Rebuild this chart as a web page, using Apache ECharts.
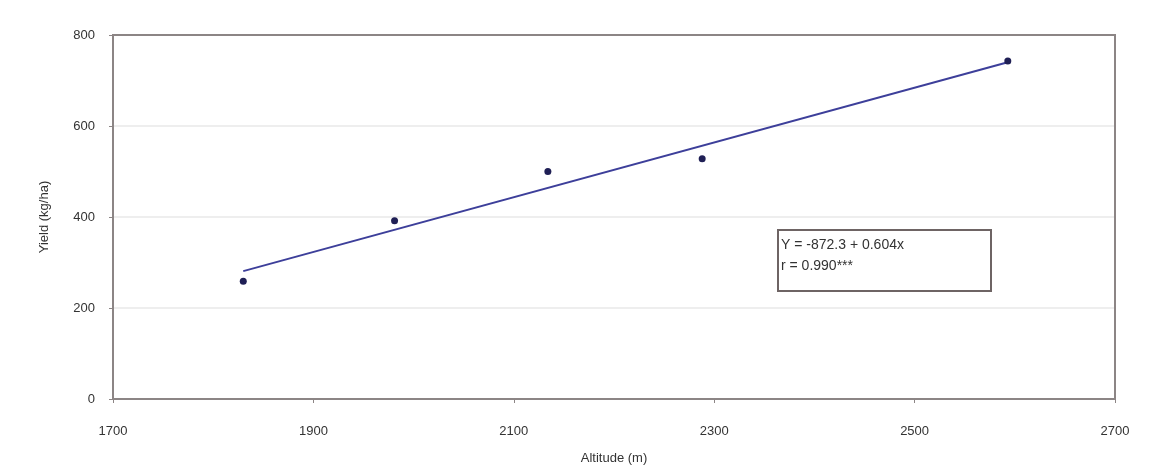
<!DOCTYPE html>
<html>
<head>
<meta charset="utf-8">
<script src="https://cdn.jsdelivr.net/npm/echarts@6/dist/echarts.min.js"></script>
<style>
html,body{margin:0;padding:0;background:#fff;}
#chart{width:1158px;height:470px;}
</style>
</head>
<body>
<div id="chart"></div>
<script>
// Data
const altitude = [1830, 1981, 2134, 2288, 2593];
const yieldValues = [259, 392, 500, 528, 743];
// Fitted line endpoints as drawn in the picture
const fitAltitude = [1830, 2593];
const fitYield = [281, 740];
const xTicks = [1700, 1900, 2100, 2300, 2500, 2700];
const yTicks = [0, 200, 400, 600, 800];
const equationLines = ['Y = -872.3 + 0.604x', 'r = 0.990***'];

const points = altitude.map((a, i) => [a, yieldValues[i]]);
const fitLine = fitAltitude.map((a, i) => [a, fitYield[i]]);

const chart = echarts.init(document.getElementById('chart'));
const font = 'Liberation Sans, Arial, sans-serif';
chart.setOption({
  animation: false,
  backgroundColor: '#fff',
  grid: { left: 113, right: 43, top: 35, bottom: 70, show: true, borderColor: '#8c8585', borderWidth: 2, backgroundColor: 'transparent', z: 5 },
  xAxis: {
    type: 'value', min: xTicks[0], max: xTicks[xTicks.length - 1], interval: 200,
    name: 'Altitude (m)', nameLocation: 'middle', nameGap: 53,
    nameTextStyle: { fontFamily: font, fontSize: 13, color: '#333' },
    axisLine: { show: true, lineStyle: { color: '#8c8585', width: 2 } },
    axisTick: { show: true, length: 4, lineStyle: { color: '#8c8585' } },
    axisLabel: { fontFamily: font, fontSize: 13, color: '#333', margin: 26, formatter: v => String(v) },
    splitLine: { show: false }
  },
  yAxis: {
    type: 'value', min: yTicks[0], max: yTicks[yTicks.length - 1], interval: 200,
    name: 'Yield (kg/ha)', nameLocation: 'middle', nameGap: 62, nameRotate: 90,
    nameTextStyle: { fontFamily: font, fontSize: 13, color: '#333' },
    axisLine: { show: true, lineStyle: { color: '#8c8585', width: 2 } },
    axisTick: { show: true, length: 4, lineStyle: { color: '#8c8585' } },
    axisLabel: { fontFamily: font, fontSize: 13, color: '#333', margin: 18, formatter: v => String(v) },
    splitLine: { show: true, showMinLine: false, showMaxLine: false, lineStyle: { color: '#eeeeee', width: 2 } }
  },
  series: [
    {
      type: 'line', data: fitLine, showSymbol: false, symbol: 'none',
      lineStyle: { color: '#3d3f9a', width: 2 }, z: 2
    },
    {
      type: 'scatter', data: points, symbol: 'circle', symbolSize: 7,
      itemStyle: { color: '#1f1f55', opacity: 1 }, z: 3
    }
  ],
  graphic: [
    {
      type: 'rect', left: 777, top: 229,
      shape: { width: 213, height: 61 },
      style: { fill: '#fff', stroke: '#6e6464', lineWidth: 2 }
    },
    {
      type: 'text', left: 781, top: 235,
      style: { text: equationLines.join('\n'), fontFamily: font, fontSize: 14, lineHeight: 21, fill: '#333' }
    }
  ]
});
</script>
</body>
</html>
